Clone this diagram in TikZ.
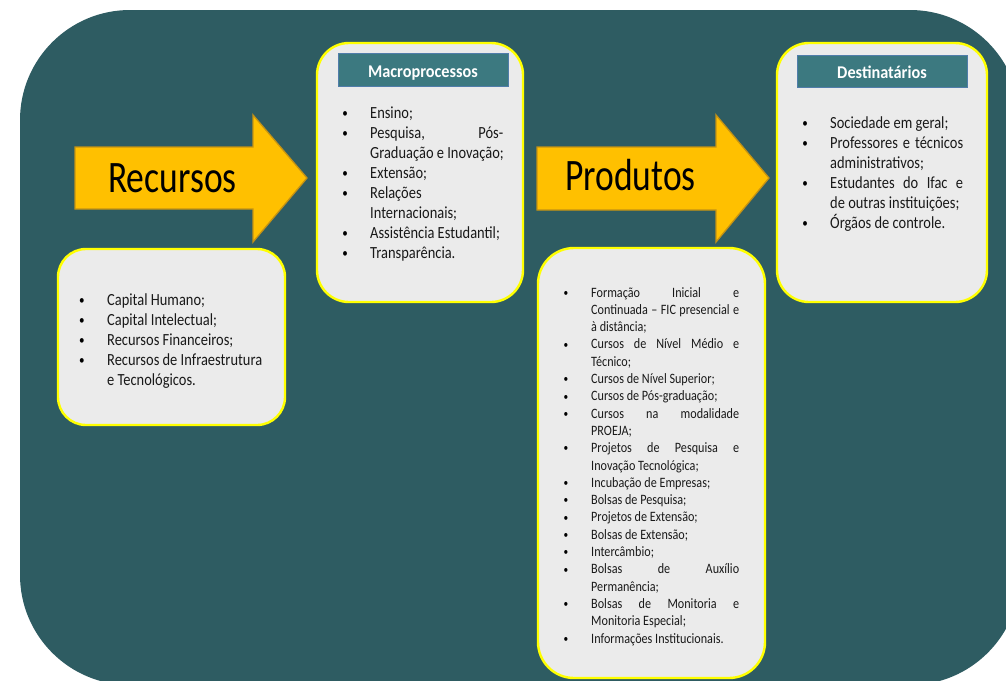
\documentclass[tikz,border=0pt]{standalone}
\usepackage{fontspec}
\setmainfont{Carlito}
\newfontfamily\bodyf{Carlito}[FakeStretch=0.85]
\newfontfamily\bigf{Carlito}[FakeStretch=0.79]
\newfontfamily\headf{Carlito}[FakeStretch=0.91]
\newcommand\jus[2]{\makebox[#1][s]{#2}}
\definecolor{bgteal}{RGB}{46,92,98}
\definecolor{boxfill}{RGB}{235,235,235}
\definecolor{boxline}{RGB}{255,255,0}
\definecolor{arrfill}{RGB}{255,192,0}
\definecolor{arrline}{RGB}{196,146,20}
\definecolor{headfill}{RGB}{60,121,128}
\definecolor{headline}{RGB}{80,125,170}
\definecolor{txtcol}{RGB}{25,25,25}
\tikzset{
  panel/.style={draw=boxline, line width=2.4pt, fill=boxfill, rounded corners=#1},
  headband/.style={draw=headline, line width=0.9pt, fill=headfill},
  bigarrow/.style={draw=arrline, line width=1.3pt, fill=arrfill, line join=miter},
  txt/.style={anchor=base west, inner sep=0pt, text=txtcol},
  bul/.style={anchor=base, inner sep=0pt, text=black},
  bodytxt/.style={font=\bodyf\fontsize{17}{17}\selectfont},
  smalltxt/.style={font=\bodyf\fontsize{14.3}{14.3}\selectfont},
  bodybul/.style={font=\bodyf\fontsize{13}{13}\selectfont},
  smallbul/.style={font=\bodyf\fontsize{11}{11}\selectfont},
  headtxt/.style={anchor=base, inner sep=0pt, text=white, font=\headf\bfseries\fontsize{17.9}{17.9}\selectfont},
  arrtxt/.style={anchor=base west, inner sep=0pt, text=black, font=\bigf\fontsize{45}{45}\selectfont}
}
\begin{document}
\begin{tikzpicture}[x=1pt,y=-1pt]
\useasboundingbox (0,0) rectangle (1006,680);
\clip (0,0) rectangle (1006,680);
% background
\path[fill=bgteal, rounded corners=110pt] (20,10) rectangle (1020,685);

% arrows
\draw[bigarrow] (75,147) -- (253,147) -- (253,115) -- (307,178) -- (253,242) -- (253,209) -- (75,209) -- cycle;
\node[arrtxt] (recursos) at (108,192) {Recursos};
\draw[bigarrow] (537,147) -- (716,147) -- (716,115) -- (769,178) -- (716,242) -- (716,210) -- (537,210) -- cycle;
\node[arrtxt] (produtos) at (565,190) {Produtos};

% panels
\draw[panel=28pt] (58,249) rectangle (285,425);
\draw[panel=32pt] (317,43) rectangle (523,302);
\draw[panel=32pt] (777,43) rectangle (987,302);
\draw[panel=36pt] (538,248) rectangle (765,678);

% header bands
\draw[headband] (338,53) rectangle (508,86);
\node[headtxt] (hmacro) at (423,77.5) {Macroprocessos};
\draw[headband] (797,55) rectangle (967,87);
\node[headtxt] (hdest) at (882,78) {Destinatários};

% Recursos list
\foreach \n/\b/\t in {1/1/{Capital Humano;}, 2/1/{Capital Intelectual;}, 3/1/{Recursos Financeiros;}, 4/1/{Recursos de Infraestrutura}, 5/0/{e Tecnológicos.}}{
  \node[txt, bodytxt] (rt\n) at (107,{305+(\n-1)*20}) {\t};
  \ifnum\b=1 \node[bul, bodybul] (rb\n) at (82,{304+(\n-1)*20}) {•};\fi
}

% Macroprocessos list
\foreach \n/\b/\t in {1/1/{Ensino;}, 2/1/{\jus{133pt}{Pesquisa, Pós-}}, 3/0/{Graduação e Inovação;}, 4/1/{Extensão;}, 5/1/{Relações}, 6/0/{Internacionais;}, 7/1/{Assistência Estudantil;}, 8/1/{Transparência.}}{
  \node[txt, bodytxt] (mt\n) at (370,{118.5+(\n-1)*20}) {\t};
  \ifnum\b=1 \node[bul, bodybul] (mb\n) at (345,{117.5+(\n-1)*20}) {•};\fi
}

% Destinatarios list
\foreach \n/\b/\t in {1/1/{Sociedade em geral;}, 2/1/{\jus{133pt}{Professores e técnicos}}, 3/0/{administrativos;}, 4/1/{\jus{133pt}{Estudantes do Ifac e}}, 5/0/{de outras instituições;}, 6/1/{Órgãos de controle.}}{
  \node[txt, bodytxt] (dt\n) at (830,{128.5+(\n-1)*20}) {\t};
  \ifnum\b=1 \node[bul, bodybul] (db\n) at (805,{127.5+(\n-1)*20}) {•};\fi
}

% Produtos list
\foreach \n/\b/\t in {1/1/{\jus{148pt}{Formação Inicial e}}, 2/0/{\jus{148pt}{Continuada – FIC presencial e}}, 3/0/{à distância;}, 4/1/{\jus{148pt}{Cursos de Nível Médio e}}, 5/0/{Técnico;}, 6/1/{Cursos de Nível Superior;}, 7/1/{Cursos de Pós-graduação;}, 8/1/{\jus{148pt}{Cursos na modalidade}}, 9/0/{PROEJA;}, 10/1/{\jus{148pt}{Projetos de Pesquisa e}}, 11/0/{Inovação Tecnológica;}, 12/1/{Incubação de Empresas;}, 13/1/{Bolsas de Pesquisa;}, 14/1/{Projetos de Extensão;}, 15/1/{Bolsas de Extensão;}, 16/1/{Intercâmbio;}, 17/1/{\jus{148pt}{Bolsas de Auxílio}}, 18/0/{Permanência;}, 19/1/{\jus{148pt}{Bolsas de Monitoria e}}, 20/0/{Monitoria Especial;}, 21/1/{Informações Institucionais.}}{
  \node[txt, smalltxt] (pt\n) at (591,{297+(\n-1)*17.3}) {\t};
  \ifnum\b=1 \node[bul, smallbul] (pb\n) at (566,{296.2+(\n-1)*17.3}) {•};\fi
}
\end{tikzpicture}
\end{document}
